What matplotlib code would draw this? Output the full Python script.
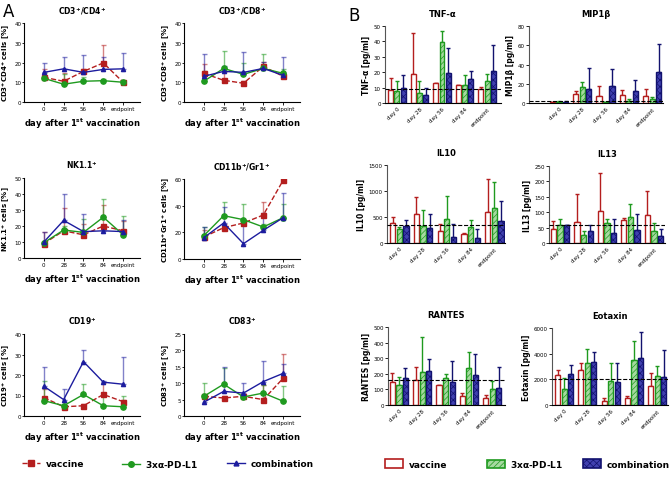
import numpy as np
import matplotlib
matplotlib.use("Agg")
import matplotlib.pyplot as plt
from matplotlib.lines import Line2D
from matplotlib.patches import Patch

plt.rcParams['mathtext.default'] = 'bf'
plt.rcParams['hatch.linewidth'] = 0.5

# ---- data, panel A (mean and upper end of error bar) ----
days = ["0", "28", "56", "84", "endpoint"]

cd4_vac = [12.5, 10.5, 15.5, 19.8, 10]
cd4_vac_hi = [16.8, 14.5, 16.5, 29, 10.5]
cd4_pdl1 = [12, 9, 10.5, 10.8, 10]
cd4_pdl1_hi = [14.5, 14, 12.5, 11.5, 10.5]
cd4_comb = [15, 16.8, 15, 16.5, 16.8]
cd4_comb_hi = [19.5, 23, 24, 23, 25]

cd8_vac = [14.5, 11, 9.5, 18, 13]
cd8_vac_hi = [19.3, 15, 10.5, 20.5, 14.5]
cd8_pdl1 = [10.5, 17, 14, 17, 14.5]
cd8_pdl1_hi = [15.5, 26, 19.5, 24.5, 16.5]
cd8_comb = [13, 15.5, 15, 17, 13.5]
cd8_comb_hi = [24.5, 18, 25.5, 20.5, 23]

nk_vac = [9, 17, 14.5, 20, 17]
nk_vac_hi = [16.5, 31, 21.5, 33, 23]
nk_pdl1 = [9.5, 17.5, 16, 25.5, 14.5]
nk_pdl1_hi = [10.5, 20, 24.5, 37, 26]
nk_comb = [10, 23.5, 16.5, 17, 16.5]
nk_comb_hi = [16.5, 40, 27.5, 20, 23.5]

gr1_vac = [16.5, 23.5, 27, 33, 59]
gr1_vac_hi = [22, 26, 30, 43, 60]
gr1_pdl1 = [17.5, 32.5, 29.5, 24, 31]
gr1_pdl1_hi = [24, 43, 41, 26, 41.5]
gr1_comb = [16, 27, 11.5, 21.5, 31]
gr1_comb_hi = [24, 39, 28, 34.5, 49.5]

cd19_vac = [9, 4.5, 5, 10.5, 7]
cd19_vac_hi = [13, 5.5, 6, 16, 8]
cd19_pdl1 = [7.5, 5, 10.5, 5, 4.5]
cd19_pdl1_hi = [17, 7, 15.5, 10, 10]
cd19_comb = [14.5, 8, 26.5, 16.5, 15.5]
cd19_comb_hi = [24, 13, 32, 17, 29]

cd83_vac = [6, 5.5, 6, 5, 11.5]
cd83_vac_hi = [6.5, 6, 6.5, 9.5, 18.8]
cd83_pdl1 = [6, 9.7, 5.8, 7, 4.5]
cd83_pdl1_hi = [10.2, 14.7, 6.3, 9.5, 9.2]
cd83_comb = [4.2, 7.5, 7, 10.5, 13]
cd83_comb_hi = [5.5, 14.8, 10.2, 16.8, 15.8]

# ---- data, panel B ----
groups = ["day 0", "day 28", "day 56", "day 84", "endpoint"]

tnf_vac = [8.5, 19, 13, 11.5, 9]
tnf_vac_hi = [16, 45.5, 13.2, 12, 10.5]
tnf_pdl1 = [7.5, 6.5, 39.5, 12, 14]
tnf_pdl1_hi = [14, 14.5, 47, 18, 19]
tnf_comb = [10, 5.5, 19.5, 15.5, 21]
tnf_comb_hi = [18, 9.5, 35.5, 21, 37.5]
tnf_base = 9.2

mip_vac = [1, 9.5, 7.5, 8, 7]
mip_vac_hi = [1.5, 12.5, 18, 14, 15]
mip_pdl1 = [1, 16.5, 1, 2, 4]
mip_pdl1_hi = [2.5, 22, 1.5, 4, 6.5]
mip_comb = [1.5, 14.5, 17.5, 12.5, 32]
mip_comb_hi = [2.5, 36.5, 35.5, 23.5, 61]
mip_base = 2

il10_vac = [380, 550, 240, 170, 600]
il10_vac_hi = [500, 880, 370, 200, 1240]
il10_pdl1 = [270, 320, 460, 300, 670]
il10_pdl1_hi = [310, 640, 910, 450, 1180]
il10_comb = [330, 280, 120, 90, 420]
il10_comb_hi = [450, 560, 360, 260, 810]
il10_base = 340

il13_vac = [47, 67, 103, 74, 92]
il13_vac_hi = [70, 158, 228, 82, 168]
il13_pdl1 = [60, 27, 64, 84, 39]
il13_pdl1_hi = [77, 39, 78, 126, 66]
il13_comb = [58, 39, 32, 43, 24]
il13_comb_hi = [60, 60, 77, 94, 45]
il13_base = 57

rantes_vac = [145, 163, 128, 60, 45]
rantes_vac_hi = [207, 245, 130, 78, 65]
rantes_pdl1 = [130, 210, 170, 240, 100]
rantes_pdl1_hi = [178, 438, 197, 340, 155]
rantes_comb = [175, 215, 145, 190, 110]
rantes_comb_hi = [238, 292, 283, 330, 242]
rantes_base = 163

eot_vac = [2300, 2700, 350, 550, 1450]
eot_vac_hi = [2700, 3250, 550, 700, 2500]
eot_pdl1 = [1250, 3300, 1900, 3500, 2250]
eot_pdl1_hi = [2100, 4350, 3300, 5000, 3050]
eot_comb = [2400, 3350, 1800, 3700, 2150]
eot_comb_hi = [3100, 4150, 3250, 5650, 4300]
eot_base = 2000

legend_names = ["vaccine", r"3x$\alpha$-PD-L1", "combination"]

RED = "#b41e1e"
GREEN = "#1f9a1f"
BLUE = "#1c1c9e"

W, H = 670.0, 485.0


def ax_px(fig, x0, y0, x1, y1):
    # axes from pixel box (top-left origin)
    return fig.add_axes([x0 / W, 1 - y1 / H, (x1 - x0) / W, (y1 - y0) / H])


def style(ax):
    ax.spines["top"].set_visible(False)
    ax.spines["right"].set_visible(False)
    ax.spines["left"].set_linewidth(0.8)
    ax.spines["bottom"].set_linewidth(0.8)
    ax.tick_params(labelsize=4, length=2, width=0.6, pad=1)


def line_panel(ax, title, ylabel, ymax, ystep, series):
    style(ax)
    ax.tick_params(axis="y", length=1.5, pad=0.5)
    x = np.arange(len(days))
    specs = [(RED, "s", "--", 3.6), (GREEN, "o", "-", 3.8), (BLUE, "^", "-", 3.0)]
    for (m, hi), (c, mk, ls, ms) in zip(series, specs):
        m = np.array(m)
        err = np.array(hi) - m
        ax.errorbar(x, m, yerr=[np.zeros_like(err), err], fmt="none", ecolor=c,
                    alpha=0.55, elinewidth=1.0, capsize=1.8, capthick=1.0)
        ax.plot(x, m, color=c, ls=ls, lw=1.0, marker=mk, ms=ms, zorder=3)
    ax.set_xlim(-1.0, 4.85)
    ax.set_ylim(0, ymax)
    ax.set_yticks(np.arange(0, ymax + 0.1, ystep))
    ax.set_xticks(x)
    ax.set_xticklabels(days)
    ax.set_title(title, fontsize=5.5, fontweight="bold", pad=7)
    ax.set_ylabel(ylabel, fontsize=5.0, fontweight="bold")
    ax.yaxis.set_label_coords(-0.105, 0.5)
    ax.set_xlabel(r"day after 1$^{st}$ vaccination", fontsize=6, fontweight="bold", labelpad=3)


def bar_panel(ax, title, ylabel, ymax, ystep, series, base, xlim):
    style(ax)
    x = np.arange(len(groups))
    specs = [("white", RED, None), ("#a6d9a0", GREEN, "//////"), ("#4040b0", "#12126e", "xxxxx")]
    offs = [-0.28, 0.0, 0.28]
    for (m, hi), (fc, ec, hatch), off in zip(series, specs, offs):
        m = np.array(m)
        err = np.array(hi) - m
        ax.bar(x + off, m, width=0.22, facecolor=fc, edgecolor=ec, hatch=hatch,
               linewidth=1.0, zorder=2)
        ax.errorbar(x + off, m, yerr=[np.zeros_like(err), err], fmt="none",
                    ecolor=ec, elinewidth=1.0, capsize=1.5, capthick=1.0, zorder=1)
    ax.axhline(base, color="black", ls="--", lw=0.8, zorder=4)
    ax.set_xlim(*xlim)
    ax.set_ylim(0, ymax)
    ax.set_yticks(np.arange(0, ymax + 0.1, ystep))
    ax.set_xticks(x)
    ax.set_xticklabels(groups, rotation=45, ha="right", rotation_mode="anchor")
    ax.tick_params(axis="x", length=0, pad=2)
    ax.spines["left"].set_color("#555555")
    ax.set_title(title, fontsize=6, fontweight="bold", pad=7)
    ax.set_ylabel(ylabel, fontsize=5.5, fontweight="bold", labelpad=2)


fig = plt.figure(figsize=(6.7, 4.85), dpi=100)

# panel A
a1 = ax_px(fig, 24, 24, 140, 103)
line_panel(a1, r"CD3$^{+}$/CD4$^{+}$", r"CD3$^{+}$CD4$^{+}$ cells [%]", 40, 10,
           [(cd4_vac, cd4_vac_hi), (cd4_pdl1, cd4_pdl1_hi), (cd4_comb, cd4_comb_hi)])
a2 = ax_px(fig, 184, 24, 300, 103)
line_panel(a2, r"CD3$^{+}$/CD8$^{+}$", r"CD3$^{+}$CD8$^{+}$ cells [%]", 40, 10,
           [(cd8_vac, cd8_vac_hi), (cd8_pdl1, cd8_pdl1_hi), (cd8_comb, cd8_comb_hi)])
a3 = ax_px(fig, 24, 179, 140, 259)
line_panel(a3, r"NK1.1$^{+}$", r"NK1.1$^{+}$ cells [%]", 50, 10,
           [(nk_vac, nk_vac_hi), (nk_pdl1, nk_pdl1_hi), (nk_comb, nk_comb_hi)])
a4 = ax_px(fig, 184, 180, 300, 260)
line_panel(a4, r"CD11b$^{+}$/Gr1$^{+}$", r"CD11b$^{+}$Gr1$^{+}$ cells [%]", 60, 20,
           [(gr1_vac, gr1_vac_hi), (gr1_pdl1, gr1_pdl1_hi), (gr1_comb, gr1_comb_hi)])
a5 = ax_px(fig, 24, 335, 140, 417)
line_panel(a5, r"CD19$^{+}$", r"CD19$^{+}$ cells [%]", 40, 10,
           [(cd19_vac, cd19_vac_hi), (cd19_pdl1, cd19_pdl1_hi), (cd19_comb, cd19_comb_hi)])
a6 = ax_px(fig, 184, 335, 300, 417)
line_panel(a6, r"CD83$^{+}$", r"CD83$^{+}$ cells [%]", 25, 5,
           [(cd83_vac, cd83_vac_hi), (cd83_pdl1, cd83_pdl1_hi), (cd83_comb, cd83_comb_hi)])

# panel B
b1 = ax_px(fig, 385, 27, 501, 104)
bar_panel(b1, "TNF-α", "TNF-α [pg/ml]", 50, 10,
          [(tnf_vac, tnf_vac_hi), (tnf_pdl1, tnf_pdl1_hi), (tnf_comb, tnf_comb_hi)],
          tnf_base, (-0.53, 4.62))
b2 = ax_px(fig, 529, 27, 663, 104)
bar_panel(b2, "MIP1β", "MIP1β [pg/ml]", 80, 20,
          [(mip_vac, mip_vac_hi), (mip_pdl1, mip_pdl1_hi), (mip_comb, mip_comb_hi)],
          mip_base, (-1.29, 4.47))
b3 = ax_px(fig, 387, 166, 505, 244)
bar_panel(b3, "IL10", "IL10 [pg/ml]", 1500, 500,
          [(il10_vac, il10_vac_hi), (il10_pdl1, il10_pdl1_hi), (il10_comb, il10_comb_hi)],
          il10_base, (-0.52, 4.45))
b4 = ax_px(fig, 549, 167, 665, 244)
bar_panel(b4, "IL13", "IL13 [pg/ml]", 250, 50,
          [(il13_vac, il13_vac_hi), (il13_pdl1, il13_pdl1_hi), (il13_comb, il13_comb_hi)],
          il13_base, (-0.47, 4.47))
b5 = ax_px(fig, 388, 328, 505, 406)
bar_panel(b5, "RANTES", "RANTES [pg/ml]", 500, 100,
          [(rantes_vac, rantes_vac_hi), (rantes_pdl1, rantes_pdl1_hi), (rantes_comb, rantes_comb_hi)],
          rantes_base, (-0.47, 4.55))
b6 = ax_px(fig, 552, 329, 668, 406)
bar_panel(b6, "Eotaxin", "Eotaxin [pg/ml]", 6000, 2000,
          [(eot_vac, eot_vac_hi), (eot_pdl1, eot_pdl1_hi), (eot_comb, eot_comb_hi)],
          eot_base, (-0.52, 4.46))

fig.text(3 / W, 1 - 12 / H, "A", fontsize=12, va="center")
fig.text(348 / W, 1 - 16 / H, "B", fontsize=12, va="center")

# legends, one entry each so they sit where the original has them
hA = [Line2D([], [], color=RED, ls="--", marker="s", ms=4, lw=1),
      Line2D([], [], color=GREEN, ls="-", marker="o", ms=4, lw=1),
      Line2D([], [], color=BLUE, ls="-", marker="^", ms=3.5, lw=1)]
for h, name, x0 in zip(hA, legend_names, [22, 122, 227]):
    fig.legend([h], [name], loc="center left", bbox_to_anchor=(x0 / W, 1 - 465 / H),
               frameon=False, prop={"size": 6.5, "weight": "bold"}, handlelength=2.0,
               handletextpad=0.6, borderpad=0, borderaxespad=0)

hB = [Patch(facecolor="white", edgecolor=RED, lw=1.2),
      Patch(facecolor="#a6d9a0", edgecolor=GREEN, hatch="//////", lw=1.2),
      Patch(facecolor="#4040b0", edgecolor="#12126e", hatch="xxxxx", lw=1.2)]
for h, name, x0 in zip(hB, legend_names, [385, 487, 583]):
    fig.legend([h], [name], loc="center left", bbox_to_anchor=(x0 / W, 1 - 465 / H),
               frameon=False, prop={"size": 6.5, "weight": "bold"}, handlelength=2.0,
               handleheight=1.0, handletextpad=0.6, borderpad=0, borderaxespad=0)

fig.savefig("out.png", dpi=100)
